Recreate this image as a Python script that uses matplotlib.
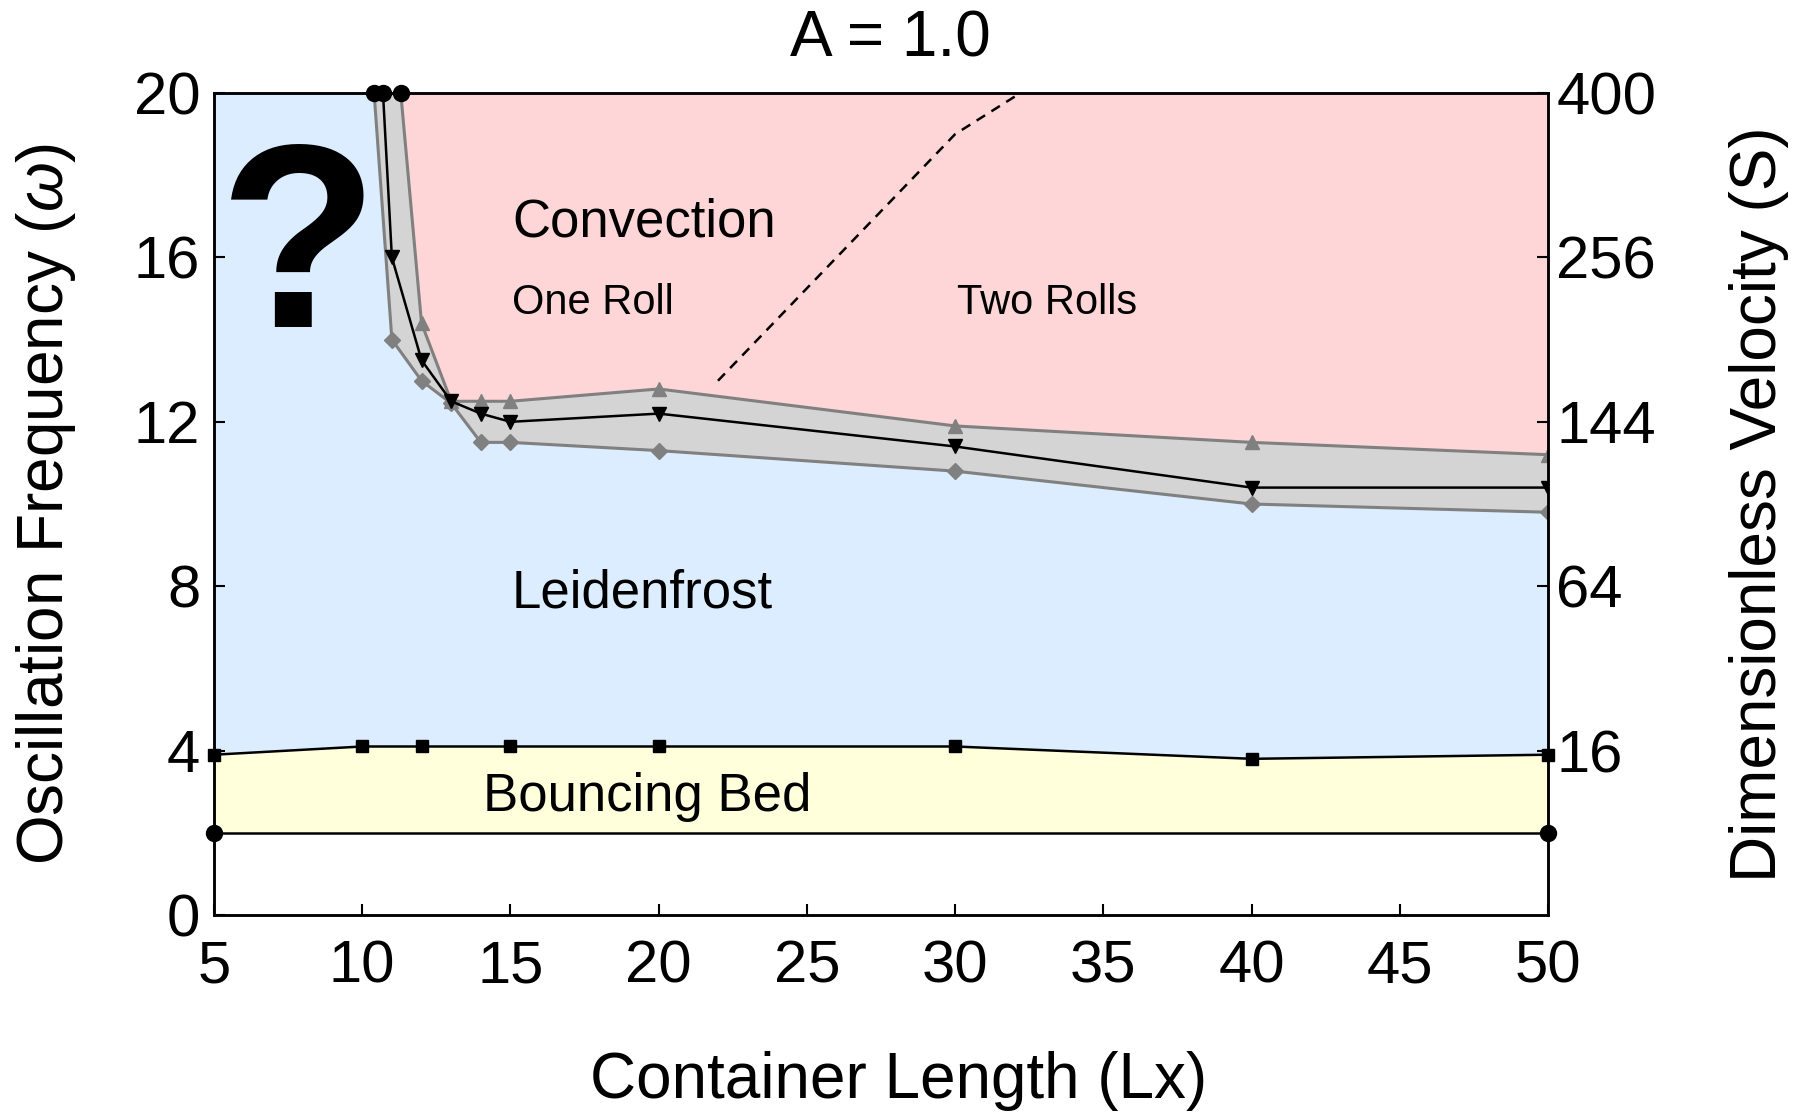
import matplotlib
matplotlib.use('Agg')
import matplotlib.pyplot as plt
import numpy as np

plt.rcParams['font.family'] = ['Liberation Sans', 'DejaVu Sans']
plt.rcParams['mathtext.fontset'] = 'custom'
plt.rcParams['mathtext.rm'] = 'Liberation Sans'
plt.rcParams['mathtext.it'] = 'Liberation Sans:italic'

# Granica Leidenfrost / konwekcja: dolna, srodkowa i gorna krzywa
lowerX = [10.4, 11, 12, 13, 14, 15, 20, 30, 40, 50]
lowerY = [20, 14.0, 13.0, 12.45, 11.5, 11.5, 11.3, 10.8, 10.0, 9.8]
midX = [10.7, 11, 12, 13, 14, 15, 20, 30, 40, 50]
midY = [20, 16.0, 13.5, 12.5, 12.2, 12.0, 12.2, 11.4, 10.4, 10.4]
upperX = [11.3, 12, 13, 14, 15, 20, 30, 40, 50]
upperY = [20, 14.4, 12.5, 12.5, 12.5, 12.8, 11.9, 11.5, 11.2]

# Granica "bouncing bed"
bounceX = [5, 10, 12, 15, 20, 30, 40, 50]
bounceY = [3.9, 4.1, 4.1, 4.1, 4.1, 4.1, 3.8, 3.9]
floorX = [5, 50]
floorY = [2.0, 2.0]

# Przejscie jedna rolka -> dwie rolki
rollsX = [22, 30, 32.2]
rollsY = [13.0, 19.0, 20.0]

leftTicks = [0, 4, 8, 12, 16, 20]
rightTicks = [4, 8, 12, 16, 20]
rightLabels = ['16', '64', '144', '256', '400']
xTicks = [5, 10, 15, 20, 25, 30, 35, 40, 45, 50]

blue = '#dbedff'
pink = '#ffd6d7'
yellow = '#ffffdb'
grayFill = '#d4d4d4'
grayLine = '#808080'

fig = plt.figure(figsize=(18.03, 11.13), dpi=100)
ax = fig.add_axes([0.1187, 0.1779, 0.7399, 0.7385])
ax.set_xlim(5, 50)
ax.set_ylim(0, 20)

# Obszary faz
ax.fill_between(bounceX, floorY[0], bounceY, color=yellow, lw=0, zorder=0)
ax.fill_between(bounceX, bounceY, 20, color=blue, lw=0, zorder=0)
ax.fill(upperX + [50, 11.3], upperY + [20, 20], color=pink, lw=0, zorder=1)
ax.fill(lowerX + upperX[::-1], lowerY + upperY[::-1], color=grayFill, lw=0, zorder=1)

# Krzywe graniczne
ax.plot(lowerX[1:], lowerY[1:], color=grayLine, lw=2.2, marker='D', ms=8, zorder=3)
ax.plot(lowerX[:2], lowerY[:2], color=grayLine, lw=2.2, zorder=3)
ax.plot(upperX[1:], upperY[1:], color=grayLine, lw=2.2, marker='^', ms=10, zorder=3)
ax.plot(upperX[:2], upperY[:2], color=grayLine, lw=2.2, zorder=3)
ax.plot(midX[1:], midY[1:], color='k', lw=1.8, marker='v', ms=10, zorder=4)
ax.plot(midX[:2], midY[:2], color='k', lw=1.8, zorder=4)
ax.plot([lowerX[0], midX[0], upperX[0]], [20, 20, 20], 'ko', ms=11.5,
        clip_on=False, zorder=6)

ax.plot(bounceX, bounceY, color='k', lw=1.8, marker='s', ms=9, clip_on=False, zorder=4)
ax.plot(floorX, floorY, color='k', lw=1.8, marker='o', ms=11.5, clip_on=False, zorder=4)

ax.plot(rollsX, rollsY, color='k', lw=1.8, ls=(0, (4, 3)), zorder=3)

# Opisy obszarow
ax.text(15.05, 16.5, 'Convection', fontsize=38, zorder=5)
ax.text(15.05, 14.62, 'One Roll', fontsize=30, zorder=5)
ax.text(30.07, 14.62, 'Two Rolls', fontsize=30, zorder=5)
ax.text(15.05, 7.49, 'Leidenfrost', fontsize=38, zorder=5)
ax.text(14.08, 2.53, 'Bouncing Bed', fontsize=38, zorder=5)
ax.text(7.85, 14.3, '?', fontsize=188, fontweight='bold', ha='center', zorder=5)

ax.set_xticks(xTicks)
ax.set_yticks(leftTicks)
ax.tick_params(direction='in', length=8, width=1.5, labelsize=43, pad=10)
ax.tick_params(axis='x', pad=18)
for s in ax.spines.values():
    s.set_linewidth(1.8)
    s.set_zorder(7)

ax2 = ax.twinx()
ax2.set_ylim(0, 20)
ax2.set_yticks(rightTicks)
ax2.set_yticklabels(rightLabels)
ax2.tick_params(direction='in', length=8, width=1.5, labelsize=43, pad=6)
for s in ax2.spines.values():
    s.set_linewidth(1.8)

ax.set_xlabel('Container Length (Lx)', fontsize=46)
ax.xaxis.set_label_coords(0.513, -0.165)
ax.set_ylabel(r'Oscillation Frequency ($\omega$)', fontsize=46, labelpad=40)
ax2.set_ylabel('Dimensionless Velocity (S)', fontsize=46, labelpad=52)
fig.text(0.494, 0.9488, 'A = 1.0', fontsize=46, ha='center', va='baseline')

fig.savefig('out.png', dpi=100)
